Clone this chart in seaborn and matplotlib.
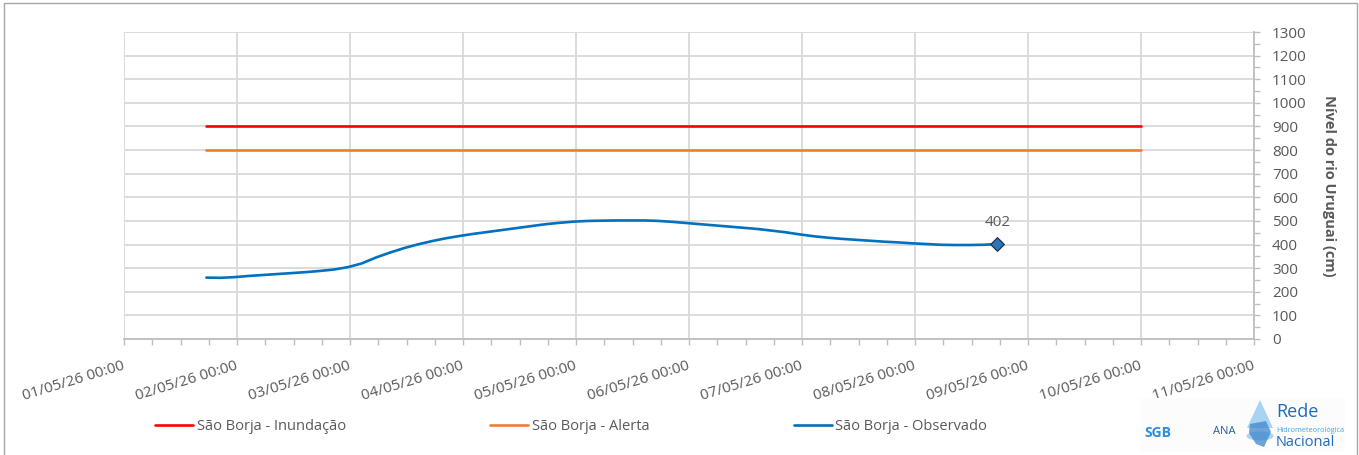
import matplotlib
matplotlib.use("Agg")
import matplotlib.pyplot as plt
import matplotlib.dates as mdates
from matplotlib.ticker import MultipleLocator
from matplotlib.patches import Rectangle, Polygon, Circle
import pandas as pd
import seaborn as sns

# Observed river level (cm), one reading every 3 hours
obs_start = "2026-05-01 17:30"
obs_step_hours = 3
obs_level = [260, 259, 262, 267, 271, 275, 279, 283, 288, 294,
             304, 320, 345, 366, 385, 401, 415, 427, 437, 446,
             454, 462, 470, 478, 486, 492, 497, 500, 501, 502,
             502, 502, 500, 496, 491, 486, 481, 476, 471, 466,
             459, 452, 443, 435, 429, 424, 420, 416, 412, 409,
             405, 402, 399, 398, 398, 399, 402]

# Reference levels, drawn over the forecast window
threshold_span = ["2026-05-01 17:30", "2026-05-10 00:00"]
flood_level = [900, 900]
alert_level = [800, 800]

series_names = ["São Borja - Inundação", "São Borja - Alerta", "São Borja - Observado"]
series_colors = ["#FF0000", "#ED7D31", "#0070C0"]
x_range = ["2026-05-01 00:00", "2026-05-11 00:00"]
y_ticks = list(range(0, 1301, 100))
y_title = "Nível do rio Uruguai (cm)"

W, H = 1359, 455
TXT = "#595959"
GRID = "#D9D9D9"
AXC = "#BFBFBF"
FS = 11

sns.set_theme(style="white")
plt.rcParams["font.family"] = ["Open Sans", "DejaVu Sans"]

obs_times = pd.date_range(obs_start, periods=len(obs_level), freq=f"{obs_step_hours}h")
span_times = pd.to_datetime(threshold_span)
df = pd.concat([
    pd.DataFrame({"time": span_times, "level": flood_level, "serie": series_names[0]}),
    pd.DataFrame({"time": span_times, "level": alert_level, "serie": series_names[1]}),
    pd.DataFrame({"time": obs_times, "level": obs_level, "serie": series_names[2]}),
], ignore_index=True)

fig = plt.figure(figsize=(W / 100, H / 100), dpi=100)
ax = fig.add_axes([124 / W, 1 - 339 / H, (1254 - 124) / W, (339 - 32) / H])

sns.lineplot(data=df, x="time", y="level", hue="serie", hue_order=series_names,
             palette=series_colors, linewidth=1.9, estimator=None, sort=False, ax=ax)

# last observation marker and its value
last = df[df["serie"] == series_names[2]].iloc[[-1]]
sns.scatterplot(data=last, x="time", y="level", marker="D", s=48, color="#2E75B6",
                edgecolor="#1F2F4F", linewidth=0.9, zorder=5, legend=False, ax=ax)
ax.annotate(f"{obs_level[-1]}", xy=(last["time"].iloc[0], obs_level[-1]),
            xytext=(0, 10), textcoords="offset points", ha="center", va="bottom",
            fontsize=FS, color=TXT)

handles, labels = ax.get_legend_handles_labels()
ax.get_legend().remove()

ax.set_xlim(pd.Timestamp(x_range[0]), pd.Timestamp(x_range[1]))
ax.set_ylim(y_ticks[0], y_ticks[-1])
ax.xaxis.set_major_locator(mdates.DayLocator())
ax.xaxis.set_minor_locator(mdates.HourLocator(byhour=[6, 12, 18]))
ax.xaxis.set_major_formatter(mdates.DateFormatter("%d/%m/%y %H:%M"))
ax.yaxis.tick_right()
ax.yaxis.set_label_position("right")
ax.set_yticks(y_ticks)
ax.yaxis.set_minor_locator(MultipleLocator(50))

ax.grid(True, which="major", color=GRID, linewidth=1.3)
for side in ["top", "left"]:
    ax.spines[side].set_visible(False)
for side in ["bottom", "right"]:
    ax.spines[side].set_color(AXC)
    ax.spines[side].set_linewidth(1.3)

ax.tick_params(axis="x", which="both", direction="out", length=4, width=1, color=AXC,
               labelsize=FS, labelcolor=TXT, pad=15, bottom=True)
ax.tick_params(axis="y", which="both", direction="out", length=4, width=1, color=AXC,
               labelsize=FS, labelcolor=TXT, pad=9, right=True, left=False)
plt.setp(ax.get_xticklabels(), rotation=17, ha="right", va="center", rotation_mode="anchor")

ax.set_xlabel("")
ax.set_ylabel(y_title, rotation=270, labelpad=21, fontsize=10.5, fontweight="bold", color=TXT)

fig.legend(handles, labels, loc="center left", bbox_to_anchor=(155 / W, 1 - 427 / H),
           ncol=3, frameon=False, handlelength=2.6, handletextpad=0.25,
           columnspacing=9.9, borderpad=0, borderaxespad=0, fontsize=10.5,
           labelcolor=TXT)

# outer chart frame
fig.add_artist(Rectangle((4 / W, -0.05), (1357 - 4) / W, 1.05 - 3 / H,
                         transform=fig.transFigure, fill=False, edgecolor="#A6A6A6", lw=1))

# network logo
def px(x, y):
    return (x / W, 1 - y / H)

fig.add_artist(Rectangle(px(1140, 452), 205 / W, 54 / H, transform=fig.transFigure,
                         facecolor="#FCFCFC", edgecolor="none"))
fig.add_artist(Polygon([px(1260, 400), px(1247, 428), px(1273, 428)], closed=True,
                       transform=fig.transFigure, facecolor="#A9D3F2", edgecolor="none"))
fig.add_artist(Circle(px(1260, 436), 13.5 / W, transform=fig.transFigure,
                      facecolor="#A9D3F2", edgecolor="none"))
fig.add_artist(Polygon([px(1250, 424), px(1266, 421), px(1271, 432), px(1264, 447),
                        px(1256, 444), px(1249, 433)],
                       closed=True, transform=fig.transFigure, facecolor="#3F86CC",
                       edgecolor="none", alpha=0.75))
fig.text(*px(1276, 412), "Rede", fontsize=13, color="#1E6BB8", va="center", ha="left")
fig.text(*px(1276, 430), "Hidrometeorológica", fontsize=5.2, color="#3BA7F0",
         va="center", ha="left")
fig.text(*px(1276, 443), "Nacional", fontsize=10.5, color="#1E6BB8", va="center", ha="left")
fig.text(*px(1144, 433), "SGB", fontsize=10, fontweight="bold", color="#2A8DE0",
         va="center", ha="left")
fig.text(*px(1213, 432), "ANA", fontsize=8, color="#1F5FA8", va="center", ha="left")

fig.savefig("out.png", dpi=100)
